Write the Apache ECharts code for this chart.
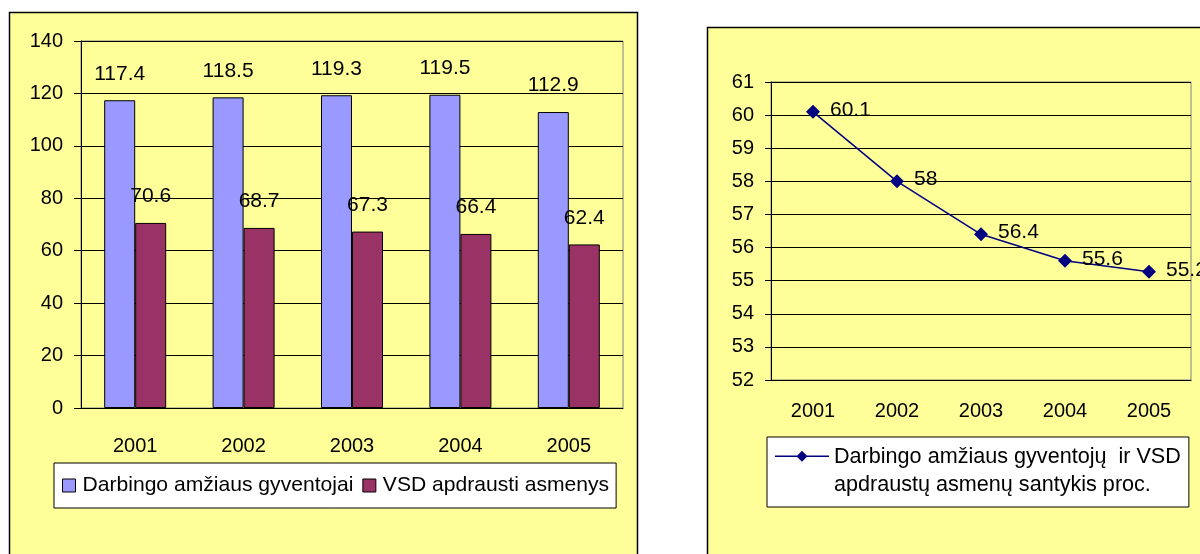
<!DOCTYPE html>
<html>
<head>
<meta charset="utf-8">
<script src="https://cdn.jsdelivr.net/npm/echarts@6/dist/echarts.min.js"></script>
<style>
  html, body { margin: 0; padding: 0; background: #fff; }
  #main { width: 1200px; height: 554px; }
</style>
</head>
<body>
<div id="main"></div>
<script>
// duomenys
var years = ['2001', '2002', '2003', '2004', '2005']
var gyventojai = [117.4, 118.5, 119.3, 119.5, 112.9]
var apdrausti = [70.6, 68.7, 67.3, 66.4, 62.4]
var santykis = [60.1, 58, 56.4, 55.6, 55.27]
var leftTicks = [0, 140, 20]
var rightTicks = [52, 61, 1]

var yellow = '#ffff99'
var font = 'Liberation Sans, Arial, sans-serif'

// legendos ikona: linija su rombu virsuje, apacioje tik taskas kad aukstis butu 42
var lineIcon = 'path://M0,6.25L54,6.25L54,7.75L0,7.75Z M27,1.5L32.5,7L27,12.5L21.5,7Z M0,42L0.05,42L0.05,42.05Z'

var myChart = echarts.init(document.getElementById('main'))

var option = {
    animation: false,
    textStyle: { fontFamily: font, color: '#000' },
    graphic: [
        { type: 'rect', z: -10, shape: { x: 9.5, y: 12.5, width: 628, height: 560 },
          style: { fill: yellow, stroke: '#000', lineWidth: 1.5 } },
        { type: 'rect', z: -10, shape: { x: 707.5, y: 27.5, width: 520, height: 560 },
          style: { fill: yellow, stroke: '#000', lineWidth: 1.5 } }
    ],
    grid: [
        { left: 81, top: 41, width: 542, height: 367, show: true,
          backgroundColor: yellow, borderColor: '#808080', borderWidth: 1 },
        { left: 771, top: 82, width: 420, height: 298, show: true,
          backgroundColor: yellow, borderColor: '#808080', borderWidth: 1 }
    ],
    legend: [
        {
            data: ['Darbingo amžiaus gyventojai', 'VSD apdrausti asmenys'],
            left: 54, top: 463,
            padding: [12, 7, 12, 8],
            itemGap: 9,
            itemWidth: 13, itemHeight: 13,
            icon: 'rect',
            backgroundColor: '#fff', borderColor: '#000', borderWidth: 1,
            textStyle: { fontSize: 21.1, fontFamily: font, color: '#000', padding: [0, 0, 0, 2] },
            itemStyle: { borderColor: '#000', borderWidth: 1 }
        },
        {
            data: ['Darbingo amžiaus gyventojų  ir VSD apdraustų asmenų santykis proc.'],
            left: 767, top: 437,
            padding: [6, 8, 8, 8],
            itemWidth: 54, itemHeight: 42,
            icon: lineIcon,
            itemStyle: { color: '#000080', borderWidth: 0 },
            backgroundColor: '#fff', borderColor: '#000', borderWidth: 1,
            formatter: function () {
                return 'Darbingo amžiaus gyventojų  ir VSD\napdraustų asmenų santykis proc.'
            },
            textStyle: { fontSize: 21.6, lineHeight: 28, fontFamily: font, color: '#000' }
        }
    ],
    xAxis: [
        {
            type: 'category', gridIndex: 0, data: years,
            axisLine: { lineStyle: { color: '#000', width: 1 } },
            axisTick: { length: 6, lineStyle: { color: '#000' } },
            axisLabel: { fontSize: 20, margin: 28, color: '#000' }
        },
        {
            type: 'category', gridIndex: 1, data: years,
            axisLine: { lineStyle: { color: '#000', width: 1 } },
            axisTick: { length: 6, lineStyle: { color: '#000' } },
            axisLabel: { fontSize: 20, margin: 21, color: '#000' }
        }
    ],
    yAxis: [
        {
            type: 'value', gridIndex: 0,
            min: leftTicks[0], max: leftTicks[1], interval: leftTicks[2],
            axisLine: { show: true, lineStyle: { color: '#000', width: 1 } },
            axisTick: { show: true, length: 7, lineStyle: { color: '#000' } },
            axisLabel: { fontSize: 20, margin: 18, color: '#000' },
            splitLine: { lineStyle: { color: '#000', width: 1 } }
        },
        {
            type: 'value', gridIndex: 1,
            min: rightTicks[0], max: rightTicks[1], interval: rightTicks[2],
            axisLine: { show: true, lineStyle: { color: '#000', width: 1 } },
            axisTick: { show: true, length: 6, lineStyle: { color: '#000' } },
            axisLabel: { fontSize: 20, margin: 17, color: '#000' },
            splitLine: { lineStyle: { color: '#000', width: 1 } }
        }
    ],
    series: [
        {
            name: 'Darbingo amžiaus gyventojai',
            type: 'bar', xAxisIndex: 0, yAxisIndex: 0,
            data: gyventojai,
            barWidth: 31, barGap: '0%',
            itemStyle: { color: '#9999ff', borderColor: '#000', borderWidth: 1 },
            label: { show: true, position: 'top', distance: 16, fontSize: 21, color: '#000', fontFamily: font }
        },
        {
            name: 'VSD apdrausti asmenys',
            type: 'bar', xAxisIndex: 0, yAxisIndex: 0,
            data: apdrausti,
            barWidth: 31, barGap: '0%',
            itemStyle: { color: '#993366', borderColor: '#000', borderWidth: 1 },
            label: { show: true, position: 'top', distance: 16, fontSize: 21, color: '#000', fontFamily: font }
        },
        {
            name: 'Darbingo amžiaus gyventojų  ir VSD apdraustų asmenų santykis proc.',
            type: 'line', xAxisIndex: 1, yAxisIndex: 1,
            data: santykis,
            symbol: 'diamond', symbolSize: 14,
            lineStyle: { color: '#000080', width: 1.5 },
            itemStyle: { color: '#000080' },
            label: { show: true, position: 'right', distance: 10, offset: [0, -2], fontSize: 21, color: '#000', fontFamily: font }
        }
    ]
}

myChart.setOption(option)
</script>
</body>
</html>
